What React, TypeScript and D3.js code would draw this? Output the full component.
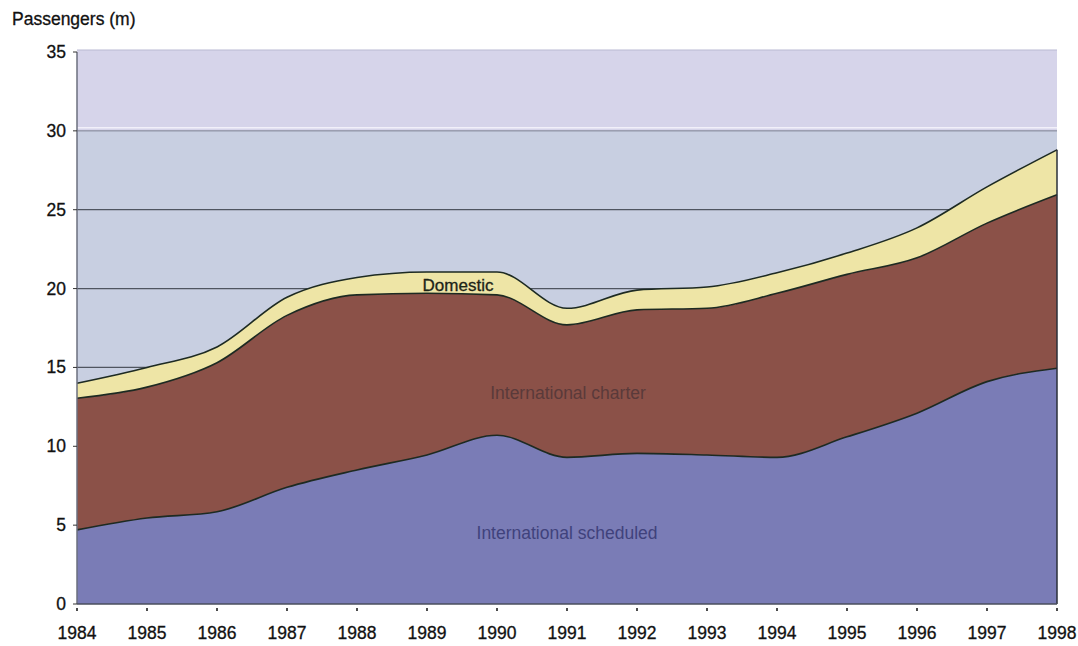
import React from 'react';
import * as d3 from 'd3';

// values (millions of passengers)
const years = [1984, 1985, 1986, 1987, 1988, 1989, 1990, 1991, 1992, 1993, 1994, 1995, 1996, 1997, 1998];
const scheduled = [4.7, 5.45, 5.85, 7.4, 8.5, 9.45, 10.7, 9.3, 9.55, 9.45, 9.3, 10.6, 12.1, 14.1, 14.95];
const charter = [8.35, 8.3, 9.45, 10.9, 11.1, 10.25, 8.9, 8.4, 9.1, 9.3, 10.4, 10.3, 9.85, 10.05, 11.0];
const domestic = [0.95, 1.25, 1.0, 1.15, 1.1, 1.35, 1.45, 1.05, 1.25, 1.35, 1.3, 1.35, 1.9, 2.3, 2.85];
const yTicks = [0, 5, 10, 15, 20, 25, 30, 35];
const seriesKeys = ['scheduled', 'charter', 'domestic'];
const seriesColors = ['#7a7cb6', '#8b5148', '#eee5a6'];

const settings = {
  width: 1078,
  height: 646,
  left: 77,
  right: 1057,
  top: 52,
  bottom: 604
};

const font = 'Liberation Sans, Arial, sans-serif';
// scanned text looks a touch heavier than regular
const inkStyle = { stroke: '#111', strokeWidth: 0.3 };

export default function App() {
  const { width, height, left, right, top, bottom } = settings;

  const x = d3.scaleLinear().domain([1984, 1998]).range([left, right]);
  const y = d3.scaleLinear().domain([0, 35]).range([bottom, top]);

  const table = years.map((yr, i) => ({
    year: yr,
    scheduled: scheduled[i],
    charter: charter[i],
    domestic: domestic[i]
  }));
  const stacked = d3.stack<any>().keys(seriesKeys)(table);

  const area = d3.area<any>()
    .x(d => x(d.data.year))
    .y0(d => y(d[0]))
    .y1(d => y(d[1]))
    .curve(d3.curveMonotoneX);
  const topLine = d3.line<any>()
    .x(d => x(d.data.year))
    .y(d => y(d[1]))
    .curve(d3.curveMonotoneX);

  return (
    <svg width={width} height={height} style={{ position: 'absolute', left: 0, top: 0, background: '#fff' }}>
      {/* background bands */}
      <rect x={left} y={y(35) - 2} width={right - left} height={y(30) - y(35) + 2} fill="#d6d4ea" />
      <rect x={left} y={y(30)} width={right - left} height={y(0) - y(30)} fill="#c8cfe1" />
      <line x1={left} x2={right} y1={y(35) - 2} y2={y(35) - 2} stroke="#b9b9d2" strokeWidth={1} />

      {/* gridlines */}
      <line x1={left} x2={right} y1={y(30) - 3} y2={y(30) - 3} stroke="#f2f0fa" strokeWidth={1.5} />
      <line x1={left} x2={right} y1={y(30)} y2={y(30)} stroke="#7b7f92" strokeWidth={1} />
      {[25, 20, 15].map(t => (
        <line key={t} x1={left} x2={right} y1={y(t)} y2={y(t)} stroke="#4f5560" strokeWidth={1.2} />
      ))}

      {/* stacked areas */}
      {stacked.map((s, i) => (
        <path key={s.key} d={area(s) as string} fill={seriesColors[i]} />
      ))}
      {stacked.map(s => (
        <path key={s.key + '-line'} d={topLine(s) as string} fill="none" stroke="#1d2a22" strokeWidth={1.6} />
      ))}

      {/* frame */}
      <line x1={left} x2={left} y1={y(35)} y2={bottom} stroke="#6b6f7e" strokeWidth={1.5} />
      <line x1={right} x2={right} y1={y(stacked[2][14][1])} y2={bottom} stroke="#2a2f38" strokeWidth={1.5} />
      <line x1={left} x2={right} y1={bottom} y2={bottom} stroke="#4a4e5c" strokeWidth={1.5} />

      {/* y axis */}
      {yTicks.map(t => (
        <g key={t}>
          <line x1={left - 4} x2={left} y1={y(t)} y2={y(t)} stroke="#333" />
          <text x={66} y={y(t) + 6} textAnchor="end" fontFamily={font} fontSize={17.5} fill="#111" style={inkStyle}>{t}</text>
        </g>
      ))}

      {/* x axis */}
      {years.map(yr => (
        <g key={yr}>
          <line x1={x(yr)} x2={x(yr)} y1={bottom + 4} y2={bottom + 7} stroke="#111" strokeWidth={1.5} />
          <text x={x(yr)} y={639} textAnchor="middle" fontFamily={font} fontSize={17.5} fill="#111" style={inkStyle}>{yr}</text>
        </g>
      ))}

      <text x={12} y={25} fontFamily={font} fontSize={17.5} fill="#111" style={inkStyle}>Passengers (m)</text>

      {/* series labels */}
      <text x={458} y={291} textAnchor="middle" fontFamily={font} fontSize={17} fill="#1c2418" style={{ stroke: '#1c2418', strokeWidth: 0.3 }}>Domestic</text>
      <text x={568} y={399} textAnchor="middle" fontFamily={font} fontSize={17.5} fill="#5a3a3a">International charter</text>
      <text x={567} y={539} textAnchor="middle" fontFamily={font} fontSize={17.5} fill="#40427c">International scheduled</text>
    </svg>
  );
}
